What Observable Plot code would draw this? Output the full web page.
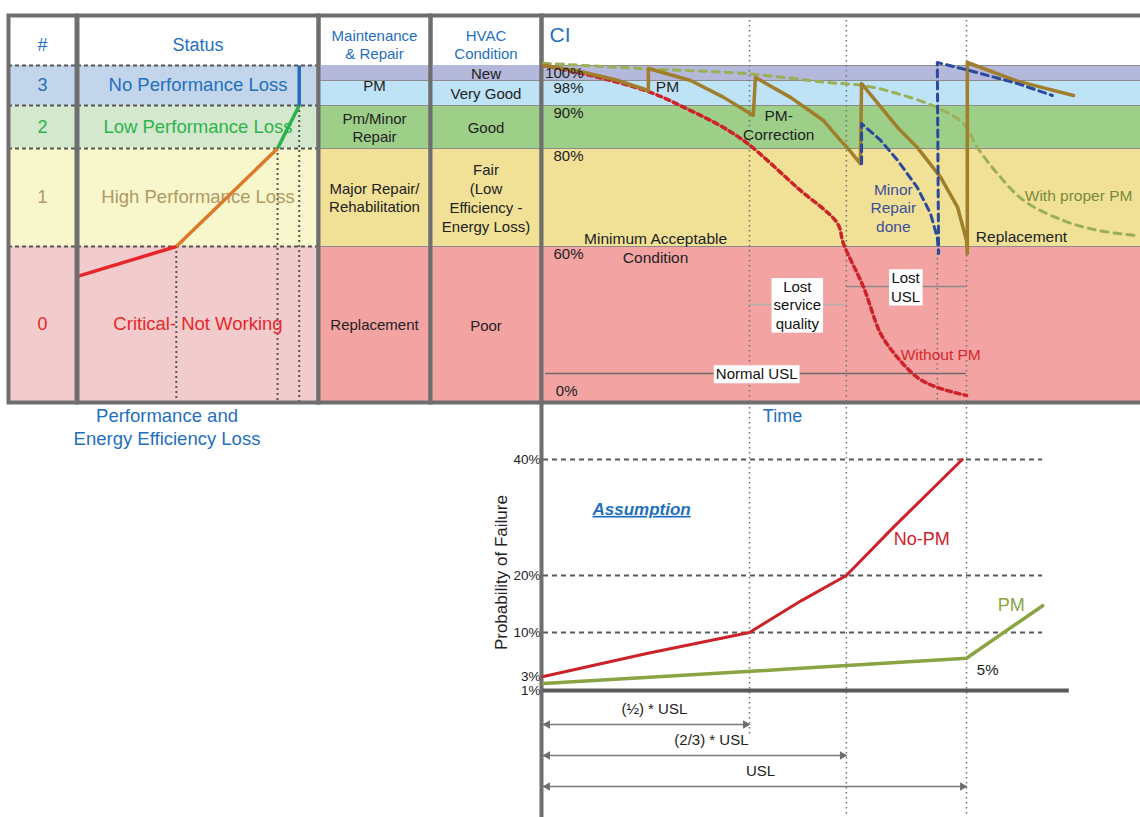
<!DOCTYPE html>
<html><head><meta charset="utf-8">
<script src="https://cdn.jsdelivr.net/npm/d3@7"></script>
<script src="https://cdn.jsdelivr.net/npm/@observablehq/plot@0.6"></script>
<style>
html,body{margin:0;padding:0;background:#fff;overflow:hidden;}
#chart{position:relative;width:1140px;height:817px;overflow:hidden;}
</style></head><body><div id="chart"></div>
<script>
// ================= DATA =================
// Condition Index (CI) bands
const ciTicks = [100, 98, 90, 80, 60, 0];
const conditionNames = ["New", "Very Good", "Good", "Fair\n(Low\nEfficiency -\nEnergy Loss)", "Poor"];
const conditionTop = [100, 98, 90, 80, 60];
const conditionBottom = [98, 90, 80, 60, 0];

// Status / maintenance groups
const statusLevels = ["3", "2", "1", "0"];
const statusNames = ["No Performance Loss", "Low Performance Loss", "High Performance Loss", "Critical- Not Working"];
const maintenanceNames = ["PM", "Pm/Minor\nRepair", "Major Repair/\nRehabilitation", "Replacement"];
const statusTop = [100, 90, 80, 60];
const statusBottom = [90, 80, 60, 0];
const headers = ["#", "Status", "Maintenance\n& Repair", "HVAC\nCondition"];

// Performance-loss curve in the Status column (fraction of column, CI)
const perfX = [0, 0.41, 0.83, 0.92, 0.92];
const perfCI = [48.5, 60, 80, 90, 100];

// CI over time (time in units of USL)
const withoutPM = [[0,100],[0.11,98.7],[0.253,94.2],[0.348,88.8],[0.418,85.3],[0.482,81.2],[0.6,72],[0.695,64.7],[0.709,60.6],[0.757,44.2],[0.797,26.5],[0.837,17.3],[0.884,9.6],[0.931,5.8],[1.0,2.7]];
const withProperPM = [[0,100.3],[0.23,99.6],[0.482,98.9],[0.678,97.3],[0.757,96.4],[0.837,93.8],[0.931,89.5],[0.993,85.8],[1.026,80.2],[1.073,74.9],[1.135,69.4],[1.229,65.3],[1.31,63.3],[1.404,62.2]];
const maintainedPath = [[0,100],[0.08,99.3],[0.17,98.1],[0.248,94.8],[0.248,99.6],[0.348,98.0],[0.426,92.6],[0.496,87.7],[0.501,98.4],[0.584,92.6],[0.662,86.5],[0.702,81.9],[0.72,80.0],[0.749,76.9],[0.752,97.0],[0.837,84.9],[0.884,80.2],[0.939,74.1],[0.979,68.0],[1.0,61.2],[1.002,57.3],[1.002,100.4],[1.12,97.8],[1.253,93.2]];
const minorRepairPath = [[0.752,76.9],[0.752,85.8],[0.797,81.9],[0.837,77.6],[0.884,72.0],[0.915,66.7],[0.931,61.8],[0.934,57.3],[0.931,100.4],[1.009,99.3],[1.121,97.0],[1.203,93.2]];

// Service-life markers (USL = 1)
const uslMarks = [0.487, 0.716, 1.0];
const minorRepairReplaceT = 0.931;
const gapLabels = ["Normal USL", "Lost\nservice\nquality", "Lost\nUSL"];
const gapStart = [0.005, 0.487, 0.716];
const gapEnd = [1.0, 0.716, 1.0];
const gapCI = [11.2, 37.7, 44.6];
const gapLabelT = [0.504, 0.6, 0.856];

// Annotations on CI chart
const ciNoteText = ["PM", "PM-\nCorrection", "Minimum Acceptable\nCondition", "Minor\nRepair\ndone", "With proper PM", "Replacement", "Without PM"];
const ciNoteT = [0.293, 0.556, 0.265, 0.827, 1.265, 1.13, 0.939];
const ciNoteCI = [96.1, 85.6, 59.6, 68, 70.6, 62.2, 18.8];

// Probability of failure chart
const probTicks = [1, 3, 10, 20, 40];
const probGrid = [10, 20, 40];
const noPMProb = [[0,3],[0.247,6.7],[0.487,10],[0.61,15.6],[0.716,20],[0.827,28.3],[0.99,40]];
const pmProb = [[0,2],[0.56,4.1],[1.0,5.9],[1.18,14.7]];
const probNoteText = ["No-PM", "PM", "5%"];
const probNoteT = [0.894, 1.106, 1.05];
const probNoteP = [26.2, 14.7, 3.95];
const spanLabels = ["(½) * USL", "(2/3) * USL", "USL"];
const spanEnd = [0.487, 0.716, 1.0];
const spanLabelT = [0.262, 0.397, 0.513];

// ================= STYLE =================
const BLUE = "#1f6fc0";
const bandFill = ["#b4b8da", "#bee3f7", "#9dcf89", "#f0e197", "#f4a3a3"];
const statusFill = ["#c3d5ea", "#d3e8cd", "#f8f6cb", "#f2cccc"];
const statusColor = ["#1f6fc0", "#2db34a", "#b09a66", "#e8262a"];
const perfColor = ["#e8262a", "#dc7a2c", "#2cb24a", "#1f6fc0"];
const ciNoteColor = ["#222", "#222", "#222", "#3c4f9a", "#7a8a3a", "#222", "#d42a2e"];
const gapStroke = ["#6b6b6b", "#b0b0b0", "#8a8a8a"];
const probNoteColor = ["#cc2229", "#8aa444", "#222"];
const FONT = '"Liberation Sans", Arial, sans-serif';
const FRAME = {stroke: "#6e6e6e", strokeWidth: 4};
const DOTTED = {stroke: "#707070", strokeWidth: 1.5, strokeDasharray: "1.5,3.5"};

// ================= LAYOUT =================
const root = document.getElementById("chart");
function layer(options, fontSize = "15px") {
  const svg = Plot.plot({
    width: 1140, height: 817, marginTop: 15, marginBottom: 415,
    color: {type: "identity"},
    ...options,
    style: {position: "absolute", left: "0px", top: "0px", background: "transparent", maxWidth: "none", overflow: "visible", fontFamily: FONT, fontSize, color: "#222"}
  });
  root.appendChild(svg);
  return svg;
}
const ciY = {type: "linear", domain: ciTicks, range: [65, 80, 105, 148, 246, 402], axis: null};
const yPix = d3.scaleLinear(ciY.domain, ciY.range);
const midCI = (a, b) => yPix.invert((yPix(a) + yPix(b)) / 2);
const timeX = {domain: [0, 1], range: [543, 966], axis: null};

const conditions = conditionNames.map((name, i) => ({name, top: conditionTop[i], bottom: conditionBottom[i], mid: midCI(conditionTop[i], conditionBottom[i]), fill: bandFill[i]}));
const statusRows = statusLevels.map((lvl, i) => ({lvl, name: statusNames[i], maint: maintenanceNames[i], top: statusTop[i], bottom: statusBottom[i], mid: midCI(statusTop[i], statusBottom[i]), fill: statusFill[i], color: statusColor[i]}));
const hdr = (text) => Plot.text([text], {frameAnchor: "top", lineAnchor: "middle", dy: 29, fill: BLUE, fontSize: text.length < 8 ? 18 : 15, lineHeight: 1.2});

// ---- # column ----
layer({marginLeft: 8, marginRight: 1140 - 76, y: ciY, marks: [
  Plot.rect(statusRows, {y1: "top", y2: "bottom", fill: "fill"}),
  Plot.ruleY(statusTop, {stroke: "#555", strokeWidth: 2, strokeDasharray: "4,3"}),
  Plot.text(statusRows, {y: "mid", text: "lvl", fill: "color", fontSize: 18}),
  hdr(headers[0]),
  Plot.frame(FRAME)
]});

// ---- Status column ----
const perfSegments = perfX.slice(0, -1).map((x, i) => ({x1: x, y1: perfCI[i], x2: perfX[i + 1], y2: perfCI[i + 1], color: perfColor[i]}));
const perfDrops = perfX.slice(1, 4).map((x, i) => ({x, y: perfCI[i + 1]}));
layer({marginLeft: 77, marginRight: 1140 - 318, y: ciY, x: {domain: [0, 1], range: [77, 318], axis: null}, marks: [
  Plot.rect(statusRows, {y1: "top", y2: "bottom", fill: "fill"}),
  Plot.ruleY(statusTop, {stroke: "#555", strokeWidth: 2, strokeDasharray: "4,3"}),
  Plot.ruleX(perfDrops, {x: "x", y1: "y", y2: () => 0, stroke: "#555", strokeWidth: 2, strokeDasharray: "2,3"}),
  Plot.text(statusRows, {y: "mid", text: "name", fill: "color", fontSize: 18.5}),
  Plot.link(perfSegments, {x1: "x1", y1: "y1", x2: "x2", y2: "y2", stroke: "color", strokeWidth: 3.5}),
  hdr(headers[1]),
  Plot.text(["Performance and\nEnergy Efficiency Loss"], {frameAnchor: "bottom", lineAnchor: "middle", dx: -31, dy: 24, fill: BLUE, fontSize: 18.5, lineHeight: 1.25}),
  Plot.frame(FRAME)
]});

// ---- Maintenance column ----
layer({marginLeft: 318, marginRight: 1140 - 430, y: ciY, marks: [
  Plot.rect(conditions, {y1: "top", y2: "bottom", fill: "fill"}),
  Plot.ruleY(conditionTop.slice(1), {stroke: "#8c8c8c", strokeWidth: 1}),
  Plot.text(statusRows, {y: "mid", text: "maint", fontSize: 15, lineHeight: 1.2, fill: "#222"}),
  hdr(headers[2]),
  Plot.frame(FRAME)
]});

// ---- HVAC condition column ----
layer({marginLeft: 430, marginRight: 1140 - 541, y: ciY, marks: [
  Plot.rect(conditions, {y1: "top", y2: "bottom", fill: "fill"}),
  Plot.ruleY(conditionTop.slice(1), {stroke: "#8c8c8c", strokeWidth: 1}),
  Plot.text(conditions, {y: "mid", text: "name", fontSize: 15, lineHeight: 1.25, fill: "#222"}),
  hdr(headers[3]),
  Plot.frame(FRAME)
]});

// ---- CI over time chart ----
const gaps = gapLabels.map((label, i) => ({label, t1: gapStart[i], t2: gapEnd[i], ci: gapCI[i], lt: gapLabelT[i], color: gapStroke[i]}));
const ciNotes = ciNoteText.map((text, i) => ({text, t: ciNoteT[i], ci: ciNoteCI[i], color: ciNoteColor[i]}));
const px = d => d[0], py = d => d[1];
const ciSvg = layer({width: 1160, marginLeft: 541, marginRight: 0, y: ciY, x: timeX, marks: [
  Plot.rect(conditions, {y1: "top", y2: "bottom", fill: "fill"}),
  Plot.ruleY(conditionTop, {stroke: "#8c8c8c", strokeWidth: 1}),
  Plot.ruleX(uslMarks, DOTTED),
  Plot.ruleX([minorRepairReplaceT], {y1: () => 57.3, y2: () => 0, ...DOTTED}),
  Plot.ruleY(gaps, {y: "ci", x1: "t1", x2: "t2", stroke: "color", strokeWidth: 1.5}),
  Plot.text(gaps, {x: "lt", y: "ci", text: "label", fontSize: 15, lineHeight: 1.22, fill: "#111"}),
  Plot.frame(FRAME),
  Plot.line(withProperPM, {x: px, y: py, curve: "catmull-rom", stroke: "#9aaf56", strokeWidth: 3, strokeDasharray: "7,6"}),
  Plot.line(withoutPM, {x: px, y: py, curve: "catmull-rom", stroke: "#cc2229", strokeWidth: 3.5, strokeDasharray: "5,4"}),
  Plot.line(maintainedPath, {x: px, y: py, stroke: "#a07e2c", strokeWidth: 3.5}),
  Plot.line(minorRepairPath, {x: px, y: py, stroke: "#2b4a9b", strokeWidth: 3, strokeDasharray: "7,5"}),
  Plot.text(ciNotes, {x: "t", y: "ci", text: "text", fill: "color", fontSize: 15.5, lineHeight: 1.2}),
  Plot.text(ciTicks.slice(0, 5), {y: d => d, text: d => d + "%", frameAnchor: "left", lineAnchor: "middle", dx: 42, dy: 8, textAnchor: "end", fontSize: 15, fill: "#222"}),
  Plot.text(ciTicks.slice(5), {y: d => d, text: d => d + "%", frameAnchor: "left", lineAnchor: "middle", dx: 36, dy: -11, textAnchor: "end", fontSize: 15, fill: "#222"}),
  Plot.text(["CI"], {frameAnchor: "top-left", lineAnchor: "middle", dx: 8, dy: 20, textAnchor: "start", fill: BLUE, fontSize: 21}),
  Plot.text([{label: "Time", t: 0.565}], {x: "t", text: "label", frameAnchor: "bottom", lineAnchor: "middle", dy: 14, fill: BLUE, fontSize: 18})
]});

// ---- Probability of failure chart ----
const probNotes = probNoteText.map((text, i) => ({text, t: probNoteT[i], p: probNoteP[i], color: probNoteColor[i]}));
const probSvg = layer({marginLeft: 541, marginRight: 0, marginTop: 402, marginBottom: 0, x: timeX,
  y: {type: "linear", domain: probTicks, range: [690, 676, 632, 575, 459], ticks: probTicks, tickFormat: d => d + "%", tickSize: 0, tickPadding: 1, label: null},
  marks: [
  Plot.ruleY(probGrid, {x1: 0, x2: 1.18, stroke: "#5a5a5a", strokeWidth: 2, strokeDasharray: "5,4"}),
  Plot.ruleX(uslMarks.slice(0, 1), {...DOTTED, insetBottom: 80}),
  Plot.ruleX(uslMarks.slice(1), DOTTED),
  Plot.ruleX([0], {dx: -2, stroke: "#6e6e6e", strokeWidth: 4}),
  Plot.ruleY([1], {x1: 0, x2: 1.243, stroke: "#5a5a5a", strokeWidth: 4}),
  Plot.line(noPMProb, {x: px, y: py, stroke: "#cc2229", strokeWidth: 3}),
  Plot.line(pmProb, {x: px, y: py, stroke: "#8aa444", strokeWidth: 3.5}),
  Plot.text(probNotes.slice(0, 2), {x: "t", y: "p", text: "text", fill: "color", fontSize: 18}),
  Plot.text(probNotes.slice(2), {x: "t", y: "p", text: "text", fill: "color", fontSize: 15}),
  Plot.text([{label: "Assumption", t: 0.232, p: 31.4}], {x: "t", y: "p", text: "label", fill: BLUE, fontSize: 17, fontWeight: "bold", fontStyle: "italic"}),
  Plot.text([{label: "Probability of Failure", t: -0.099, p: 20.5}], {x: "t", y: "p", text: "label", rotate: -90, fill: "#222", fontSize: 17})
]}, "13.5px");

// ---- Service life spans ----
const spans = spanLabels.map((label, i) => ({label, end: spanEnd[i], lt: spanLabelT[i]}));
layer({marginLeft: 541, marginRight: 0, marginTop: 700, marginBottom: 0, x: timeX,
  y: {type: "point", domain: spanLabels, range: [724, 786], padding: 0, axis: null},
  marks: [
  Plot.link(spans, {x1: () => 0, x2: "end", y1: "label", y2: "label", stroke: "#7a7a7a", strokeWidth: 1.5}),
  Plot.dot(spans, {x: () => 0, y: "label", symbol: "triangle2", rotate: -90, r: 4, fill: "#6e6e6e", dx: 4}),
  Plot.dot(spans, {x: "end", y: "label", symbol: "triangle2", rotate: 90, r: 4, fill: "#6e6e6e", dx: -4}),
  Plot.text(spans, {x: "lt", y: "label", text: "label", dy: -15, fontSize: 15, fill: "#222"})
]});

// white boxes behind USL labels, underline for "Assumption"
const flat = s => s.replace(/\n/g, "");
const boxed = new Set(gapLabels.map(flat));
ciSvg.querySelectorAll("text").forEach(t => {
  if (!boxed.has(t.textContent)) return;
  const b = t.getBBox();
  const r = document.createElementNS("http://www.w3.org/2000/svg", "rect");
  r.setAttribute("x", b.x - 2); r.setAttribute("y", b.y);
  r.setAttribute("width", b.width + 4); r.setAttribute("height", b.height + 1);
  r.setAttribute("fill", "white");
  if (t.getAttribute("transform")) r.setAttribute("transform", t.getAttribute("transform"));
  t.parentNode.insertBefore(r, t);
});
probSvg.querySelectorAll("text").forEach(t => { if (t.textContent === "Assumption") t.setAttribute("text-decoration", "underline"); });
</script></body></html>
